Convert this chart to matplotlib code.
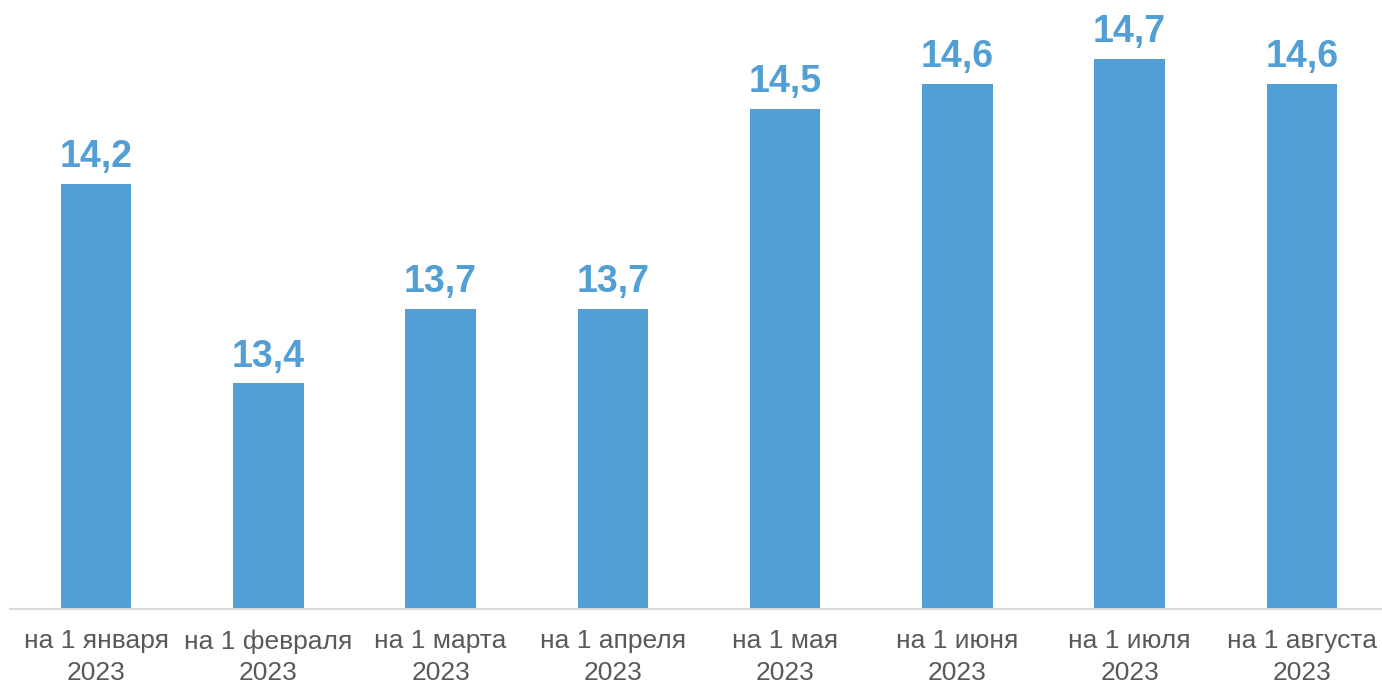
import matplotlib.pyplot as plt

categories = ['на 1 января\n2023', 'на 1 февраля\n2023', 'на 1 марта\n2023', 'на 1 апреля\n2023',
              'на 1 мая\n2023', 'на 1 июня\n2023', 'на 1 июля\n2023', 'на 1 августа\n2023']
values = [14.2, 13.4, 13.7, 13.7, 14.5, 14.6, 14.7, 14.6]

plt.rcParams['font.family'] = ['Liberation Sans', 'DejaVu Sans']

fig = plt.figure(figsize=(13.82, 6.83), dpi=100)
ax = fig.add_axes([10 / 1382, 74.5 / 683, 1372 / 1382, 608.5 / 683])

x = range(len(values))
ax.bar(x, values, width=0.41, color='#529FD6')
ax.set_ylim(12.5, 12.5 + 608.5 / 250)
ax.set_xlim(-0.5, 7.5 - 6 / 172.3)

for xi, v in zip(x, values):
    ax.annotate('{:.1f}'.format(v).replace('.', ','), (xi, v), xytext=(0, 6),
                textcoords='offset points', ha='center', va='bottom',
                fontsize=27, fontweight='bold', color='#529FD6')

ax.set_xticks(list(x))
ax.set_xticklabels(categories, fontsize=19, color='#595959', linespacing=1.38)
ax.tick_params(axis='x', length=0, pad=15)
ax.set_yticks([])
for s in ['top', 'right', 'left']:
    ax.spines[s].set_visible(False)
ax.spines['bottom'].set_color('#D9D9D9')
ax.spines['bottom'].set_linewidth(1.5)

fig.savefig('out.png', dpi=100)
